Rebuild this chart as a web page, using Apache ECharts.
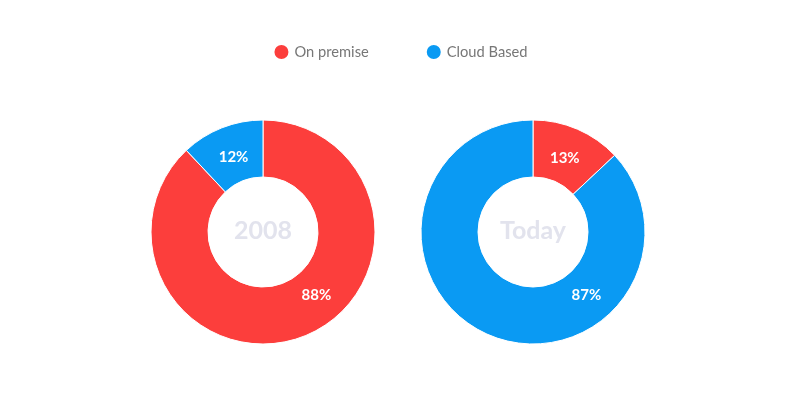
<!DOCTYPE html>
<html>
<head>
<meta charset="utf-8">
<script src="https://cdn.jsdelivr.net/npm/echarts@6/dist/echarts.min.js"></script>
<style>
  html, body { margin: 0; padding: 0; background: #fff; }
  #main { width: 800px; height: 400px; }
</style>
</head>
<body>
<div id="main"></div>
<script>
var categories = ['On premise', 'Cloud Based'];
var colors = ['#FC3E3C', '#0A9AF3'];
var years = ['2008', 'Today'];
var values2008 = [88, 12];
var valuesToday = [13, 87];

var centers = [[263, 232], [533, 232]];
var ringRadius = [55, 112];

function toData(vals) {
    var out = [];
    for (var i = 0; i < vals.length; i++) {
        out.push({ name: categories[i], value: vals[i], itemStyle: { color: colors[i] } });
    }
    return out;
}

// small slice label at mid angle, big slice label fixed lower right (~140deg from top)
function layoutFor(k, vals) {
    return function (p) {
        var total = 0, before = 0;
        for (var i = 0; i < vals.length; i++) {
            total += vals[i];
            if (i < p.dataIndex) before += vals[i];
        }
        var deg, r;
        if (vals[p.dataIndex] / total > 0.5) {
            deg = 140; r = 83;
        } else {
            deg = (before + vals[p.dataIndex] / 2) / total * 360; r = 80;
        }
        var a = deg * Math.PI / 180;
        var tx = centers[k][0] + r * Math.sin(a);
        var ty = centers[k][1] - r * Math.cos(a);
        var lr = p.labelRect;
        return { dx: tx - (lr.x + lr.width / 2), dy: ty - (lr.y + lr.height / 2) };
    };
}

function makeSeries(k, vals) {
    return {
        type: 'pie',
        name: years[k],
        center: centers[k],
        radius: ringRadius,
        startAngle: 90,
        clockwise: true,
        avoidLabelOverlap: false,
        silent: true,
        itemStyle: { borderColor: '#fff', borderWidth: 1 },
        label: {
            show: true,
            position: 'inside',
            formatter: '{c}%',
            color: '#fff',
            fontSize: 15,
            fontWeight: 'bold',
            fontFamily: 'Lato'
        },
        labelLine: { show: false },
        labelLayout: layoutFor(k, vals),
        data: toData(vals)
    };
}

var myChart = echarts.init(document.getElementById('main'));
myChart.setOption({
    animation: false,
    legend: {
        top: 38,
        left: 'center',
        icon: 'circle',
        itemWidth: 16,
        itemHeight: 16,
        itemGap: 56,
        data: categories,
        textStyle: { color: '#777', fontSize: 14.7, fontFamily: 'Lato', padding: [0, 0, 0, 0] }
    },
    title: years.map(function (y, k) {
        return {
            text: y,
            left: centers[k][0],
            top: centers[k][1] - 14,
            padding: 0,
            textAlign: 'center',
            textStyle: { color: '#E2E3ED', fontSize: 25, fontWeight: 'bold', fontFamily: 'Lato' }
        };
    }),
    series: [makeSeries(0, values2008), makeSeries(1, valuesToday)]
});
</script>
</body>
</html>
